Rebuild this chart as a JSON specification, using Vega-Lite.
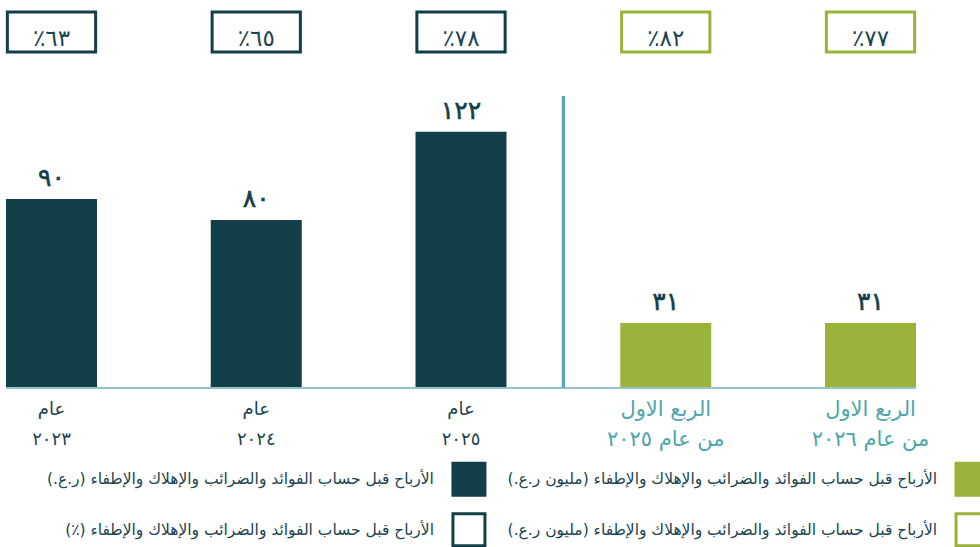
{
  "$schema": "https://vega.github.io/schema/vega-lite/v6.json",
  "padding": {"left": 5, "top": 10, "right": 0, "bottom": 0},
  "bounds": "flush",
  "spacing": 44,
  "config": {"view": {"stroke": null}, "font": "DejaVu Sans"},
  "datasets": {
    "bars": [
      {"key": "2023", "period": "annual", "value": 90, "value_ar": "٩٠", "margin": 63, "margin_ar": "٪٦٣", "xlabel": "عام\n٢٠٢٣"},
      {"key": "2024", "period": "annual", "value": 80, "value_ar": "٨٠", "margin": 65, "margin_ar": "٪٦٥", "xlabel": "عام\n٢٠٢٤"},
      {"key": "2025", "period": "annual", "value": 122, "value_ar": "١٢٢", "margin": 78, "margin_ar": "٪٧٨", "xlabel": "عام\n٢٠٢٥"},
      {"key": "Q1 2025", "period": "quarter", "value": 31, "value_ar": "٣١", "margin": 82, "margin_ar": "٪٨٢", "xlabel": "الربع الاول\nمن عام  ٢٠٢٥"},
      {"key": "Q1 2026", "period": "quarter", "value": 31, "value_ar": "٣١", "margin": 77, "margin_ar": "٪٧٧", "xlabel": "الربع الاول\nمن عام ٢٠٢٦"}
    ],
    "legend": [
      {"col": "annual", "row": "value", "text": "\u200fالأرباح قبل حساب الفوائد والضرائب والإهلاك والإطفاء (ر.ع.)\u200f"},
      {"col": "annual", "row": "margin", "text": "\u200fالأرباح قبل حساب الفوائد والضرائب والإهلاك والإطفاء (٪)\u200f"},
      {"col": "quarter", "row": "value", "text": "\u200fالأرباح قبل حساب الفوائد والضرائب والإهلاك والإطفاء (مليون ر.ع.)\u200f"},
      {"col": "quarter", "row": "margin", "text": "\u200fالأرباح قبل حساب الفوائد والضرائب والإهلاك والإطفاء (مليون ر.ع.)\u200f"}
    ]
  },
  "vconcat": [
    {
      "width": 910,
      "height": 40,
      "data": {"name": "bars"},
      "layer": [
        {
          "mark": {"type": "bar", "fill": "white", "strokeWidth": 3, "width": {"band": 0.97}},
          "encoding": {
            "x": {"field": "key", "type": "nominal", "sort": null, "axis": null, "scale": {"type": "band", "paddingInner": 0.5556, "paddingOuter": 0}},
            "stroke": {"condition": {"test": "datum.period == 'quarter'", "value": "#9ab33b"}, "value": "#133f4a"}
          }
        },
        {
          "mark": {"type": "text", "fontSize": 23, "dy": 7, "baseline": "middle", "color": "#1b4450"},
          "encoding": {
            "x": {"field": "key", "type": "nominal", "sort": null, "axis": null, "scale": {"type": "band", "paddingInner": 0.5556, "paddingOuter": 0}},
            "text": {"field": "margin_ar"}
          }
        }
      ]
    },
    {
      "bounds": "flush",
      "spacing": 0,
      "vconcat": [
        {
          "width": 910,
          "height": 292,
          "data": {"name": "bars"},
          "layer": [
            {
              "mark": {"type": "bar"},
              "encoding": {
                "x": {"field": "key", "type": "nominal", "sort": null, "axis": null, "scale": {"type": "band", "paddingInner": 0.5556, "paddingOuter": 0}},
                "y": {"field": "value", "type": "quantitative", "axis": null, "scale": {"domain": [0, 139], "nice": false}},
                "fill": {"condition": {"test": "datum.period == 'quarter'", "value": "#9ab33b"}, "value": "#133f4a"}
              }
            },
            {
              "mark": {"type": "text", "fontSize": 25, "fontWeight": "normal", "baseline": "alphabetic", "dy": -13, "color": "#133f4a", "stroke": "#133f4a", "strokeWidth": 0.6},
              "encoding": {
                "x": {"field": "key", "type": "nominal", "sort": null, "axis": null, "scale": {"type": "band", "paddingInner": 0.5556, "paddingOuter": 0}},
                "y": {"field": "value", "type": "quantitative", "axis": null, "scale": {"domain": [0, 139], "nice": false}},
                "text": {"field": "value_ar"}
              }
            },
            {
              "mark": {"type": "rule", "color": "#92c5c8", "strokeWidth": 2},
              "encoding": {
                "y": {"datum": 0, "type": "quantitative", "axis": null, "scale": {"domain": [0, 139], "nice": false}}
              }
            },
            {
              "mark": {"type": "rule", "color": "#55adb0", "strokeWidth": 3},
              "encoding": {
                "x": {"datum": "2025", "type": "nominal", "bandPosition": 1.626, "axis": null, "scale": {"type": "band", "paddingInner": 0.5556, "paddingOuter": 0}}
              }
            }
          ]
        },
        {
          "width": 910,
          "height": 74,
          "data": {"name": "bars"},
          "mark": {"type": "text", "lineBreak": "\n", "lineHeight": 30, "baseline": "middle", "dy": -15},
          "encoding": {
            "x": {"field": "key", "type": "nominal", "sort": null, "axis": null, "scale": {"type": "band", "paddingInner": 0.5556, "paddingOuter": 0}},
            "text": {"field": "xlabel"},
            "color": {"condition": {"test": "datum.period == 'quarter'", "value": "#4ca6aa"}, "value": "#1b4450"},
            "size": {"condition": {"test": "datum.period == 'quarter'", "value": 21}, "value": 18}
          }
        },
        {
          "width": 975,
          "height": 85,
          "data": {"name": "legend"},
          "layer": [
            {
              "mark": {"type": "point", "shape": "square", "size": 1024, "strokeWidth": 3, "opacity": 1, "fillOpacity": 1},
              "encoding": {
                "x": {"field": "col", "type": "nominal", "sort": null, "axis": null, "scale": {"type": "point", "padding": 0.469, "align": 0.981}},
                "y": {"field": "row", "type": "nominal", "sort": null, "axis": null, "scale": {"type": "point", "padding": 0.3416}},
                "fill": {"condition": [
                  {"test": "datum.row == 'margin'", "value": "white"},
                  {"test": "datum.col == 'quarter'", "value": "#9ab33b"}
                ], "value": "#133f4a"},
                "stroke": {"condition": {"test": "datum.col == 'quarter'", "value": "#9ab33b"}, "value": "#133f4a"}
              }
            },
            {
              "mark": {"type": "text", "align": "right", "baseline": "middle", "dx": -35, "fontSize": 15.5, "color": "#1b4450"},
              "encoding": {
                "x": {"field": "col", "type": "nominal", "sort": null, "axis": null, "scale": {"type": "point", "padding": 0.469, "align": 0.981}},
                "y": {"field": "row", "type": "nominal", "sort": null, "axis": null, "scale": {"type": "point", "padding": 0.3416}},
                "text": {"field": "text"}
              }
            }
          ]
        }
      ]
    }
  ]
}
